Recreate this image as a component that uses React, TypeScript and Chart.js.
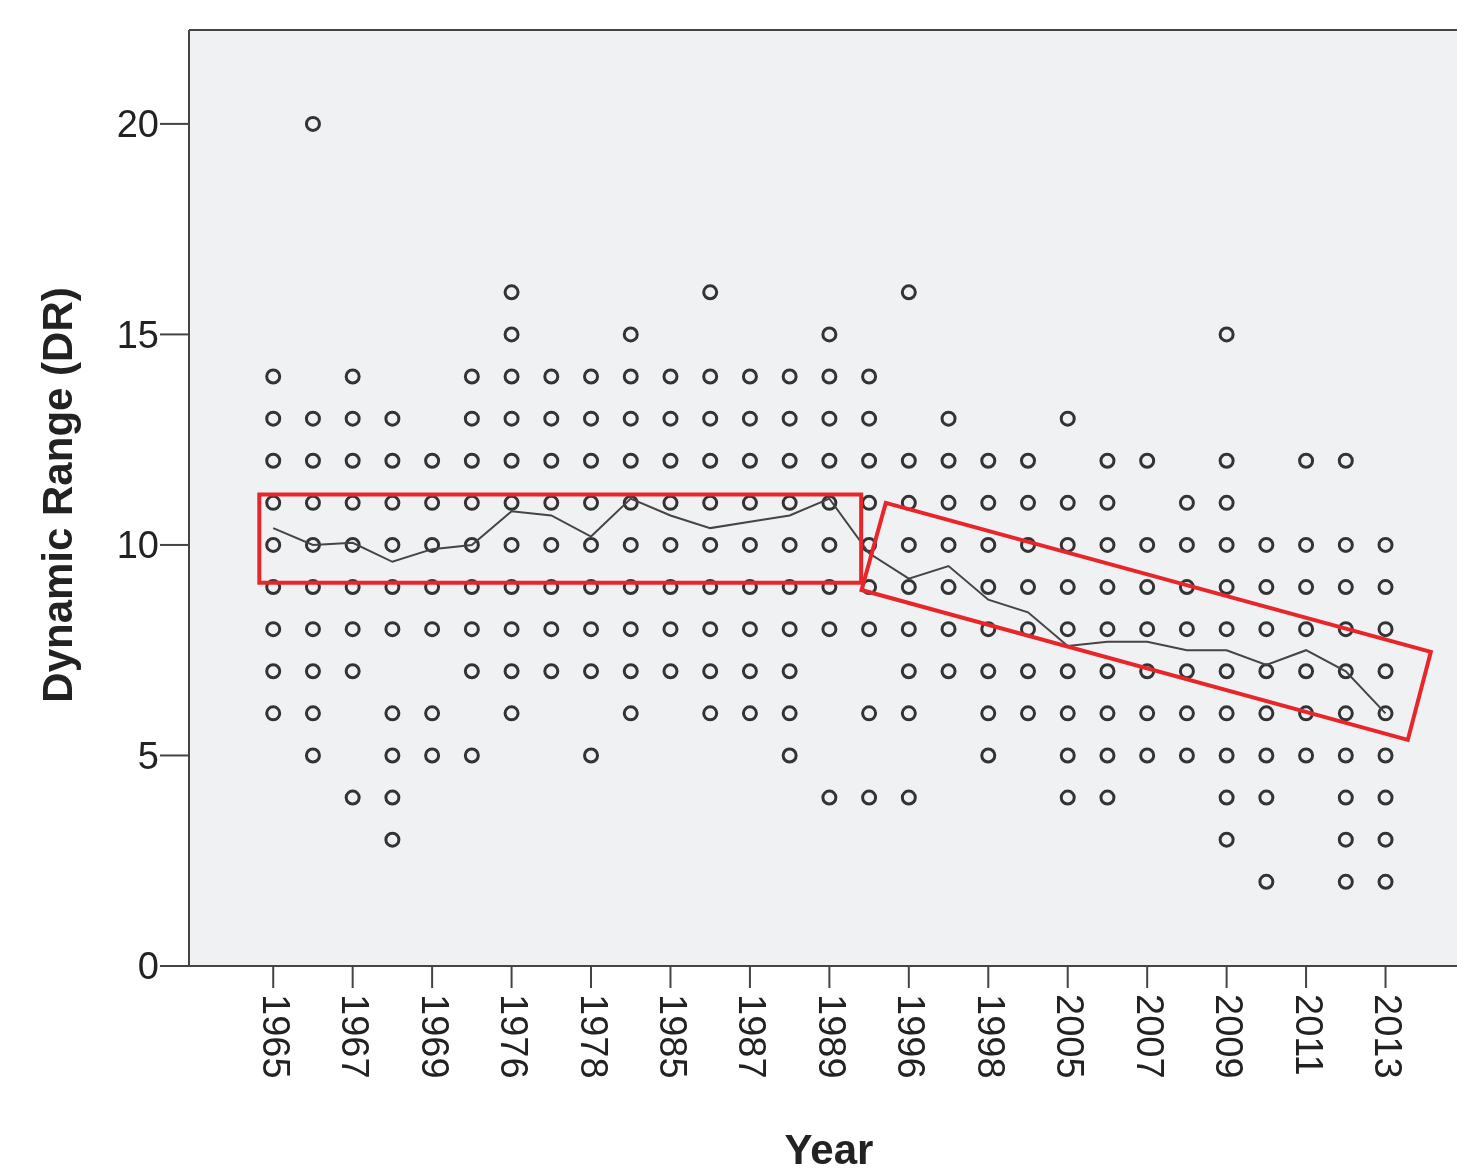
import React, { useEffect, useRef } from "react";
import { Chart, registerables } from "chart.js";
Chart.register(...registerables);

const categories = ["1965","1966","1967","1968","1969","1970","1976","1977","1978","1984","1985","1986","1987","1988","1989","1990","1996","1997","1998","2004","2005","2006","2007","2008","2009","2010","2011","2012","2013"];
const columnValues: number[][] = [
  [14,13,12,11,10,9,8,7,6],
  [20,13,12,11,10,9,8,7,6,5],
  [14,13,12,11,10,9,8,7,4],
  [13,12,11,10,9,8,6,5,4,3],
  [12,11,10,9,8,6,5],
  [14,13,12,11,10,9,8,7,5],
  [16,15,14,13,12,11,10,9,8,7,6],
  [14,13,12,11,10,9,8,7],
  [14,13,12,11,10,9,8,7,5],
  [15,14,13,12,11,10,9,8,7,6],
  [14,13,12,11,10,9,8,7],
  [16,14,13,12,11,10,9,8,7,6],
  [14,13,12,11,10,9,8,7,6],
  [14,13,12,11,10,9,8,7,6,5],
  [15,14,13,12,11,10,9,8,4],
  [14,13,12,11,10,9,8,6,4],
  [16,12,11,10,9,8,7,6,4],
  [13,12,11,10,9,8,7],
  [12,11,10,9,8,7,6,5],
  [12,11,10,9,8,7,6],
  [13,11,10,9,8,7,6,5,4],
  [12,11,10,9,8,7,6,5,4],
  [12,10,9,8,7,6,5],
  [11,10,9,8,7,6,5],
  [15,12,11,10,9,8,7,6,5,4,3],
  [10,9,8,7,6,5,4,2],
  [12,10,9,8,7,6,5],
  [12,10,9,8,7,6,5,4,3,2],
  [10,9,8,7,6,5,4,3,2],
];
const meanValues = [10.4,10.0,10.05,9.6,9.9,10.0,10.8,10.7,10.2,11.1,10.7,10.4,10.55,10.7,11.1,9.8,9.2,9.5,8.7,8.4,7.6,7.7,7.7,7.5,7.5,7.15,7.5,7.0,6.0];
const yTicks = [0,5,10,15,20];
// annotation shapes in data units: [categoryIndex, value]
const box1: [number, number][] = [[-0.35,11.2],[14.8,11.2],[14.8,9.1],[-0.35,9.1]];
const box2: [number, number][] = [[15.42,11.0],[29.14,7.46],[28.56,5.37],[14.81,8.93]];

export default function App() {
  const ref = useRef<HTMLCanvasElement>(null);
  useEffect(() => {
    document.body.style.margin = "0";
    document.documentElement.style.overflow = "hidden";
    document.body.style.overflow = "hidden";
    const pts: {x:number;y:number}[] = [];
    columnValues.forEach((vals, i) => vals.forEach(v => pts.push({ x: i, y: v })));
    const deco = {
      id: "deco",
      beforeDatasetsDraw(c: any) {
        const { ctx, chartArea: a } = c;
        ctx.save();
        ctx.fillStyle = "#f0f1f3";
        ctx.fillRect(a.left, a.top, c.width - a.left, a.bottom - a.top);
        ctx.restore();
      },
      afterDraw(c: any) {
        const { ctx, chartArea: a, scales } = c;
        const xs = scales.x, ys = scales.y;
        const R = c.width;
        ctx.save();
        ctx.strokeStyle = "#444"; ctx.lineWidth = 2;
        ctx.beginPath();
        ctx.moveTo(a.left, a.top); ctx.lineTo(R, a.top);
        ctx.moveTo(a.left, a.top); ctx.lineTo(a.left, a.bottom);
        ctx.moveTo(a.left - 29, a.bottom); ctx.lineTo(R, a.bottom);
        ctx.stroke();
        ctx.fillStyle = "#222";
        ctx.font = "38px Arial, 'Liberation Sans'";
        ctx.textAlign = "right"; ctx.textBaseline = "middle";
        yTicks.forEach(t => {
          const y = ys.getPixelForValue(t);
          ctx.beginPath(); ctx.moveTo(a.left - 29, y); ctx.lineTo(a.left, y); ctx.stroke();
          ctx.fillText(String(t), a.left - 30, y + 3);
        });
        categories.forEach((lab, i) => {
          if (i % 2) return;
          const x = xs.getPixelForValue(i);
          ctx.beginPath(); ctx.moveTo(x, a.bottom); ctx.lineTo(x, a.bottom + 22); ctx.stroke();
          ctx.save(); ctx.translate(x, a.bottom + 28); ctx.rotate(Math.PI / 2);
          ctx.textAlign = "left"; ctx.textBaseline = "middle";
          ctx.fillText(lab, 0, 0); ctx.restore();
        });
        ctx.font = "bold 42px Arial, 'Liberation Sans'";
        ctx.textAlign = "center"; ctx.textBaseline = "middle";
        ctx.fillText("Year", 829, 1152);
        ctx.save(); ctx.translate(60, 495); ctx.rotate(-Math.PI / 2);
        ctx.fillText("Dynamic Range (DR)", 0, 0); ctx.restore();
        ctx.strokeStyle = "#e8262a"; ctx.lineWidth = 4;
        [box1, box2].forEach(b => {
          ctx.beginPath();
          b.forEach(([i, v], k) => {
            const px = xs.getPixelForValue(i), py = ys.getPixelForValue(v);
            k ? ctx.lineTo(px, py) : ctx.moveTo(px, py);
          });
          ctx.closePath(); ctx.stroke();
        });
        ctx.restore();
      },
    };
    const chart = new Chart(ref.current!, {
      type: "scatter",
      data: {
        datasets: [
          { type: "line", data: meanValues.map((v, i) => ({ x: i, y: v })), borderColor: "#444", borderWidth: 2, pointRadius: 0, fill: false, clip: false } as any,
          { data: pts, pointRadius: 6.5, borderWidth: 3, borderColor: "#333", backgroundColor: "rgba(0,0,0,0)", clip: false } as any,
        ],
      },
      options: {
        animation: false, responsive: false, maintainAspectRatio: false,
        layout: { padding: { left: 189, top: 30, right: 0, bottom: 204 } },
        plugins: { legend: { display: false }, tooltip: { enabled: false } },
        scales: {
          x: { type: "linear", display: false, min: -2.12, max: 29.56 },
          y: { type: "linear", display: false, min: 0, max: 22.23 },
        },
      },
      plugins: [deco],
    });
    return () => chart.destroy();
  }, []);
  return (
    <div style={{ width: 1457, height: 1170, overflow: "hidden" }}>
      <canvas ref={ref} width={1457} height={1170} style={{ display: "block", width: 1457, height: 1170 }} />
    </div>
  );
}
